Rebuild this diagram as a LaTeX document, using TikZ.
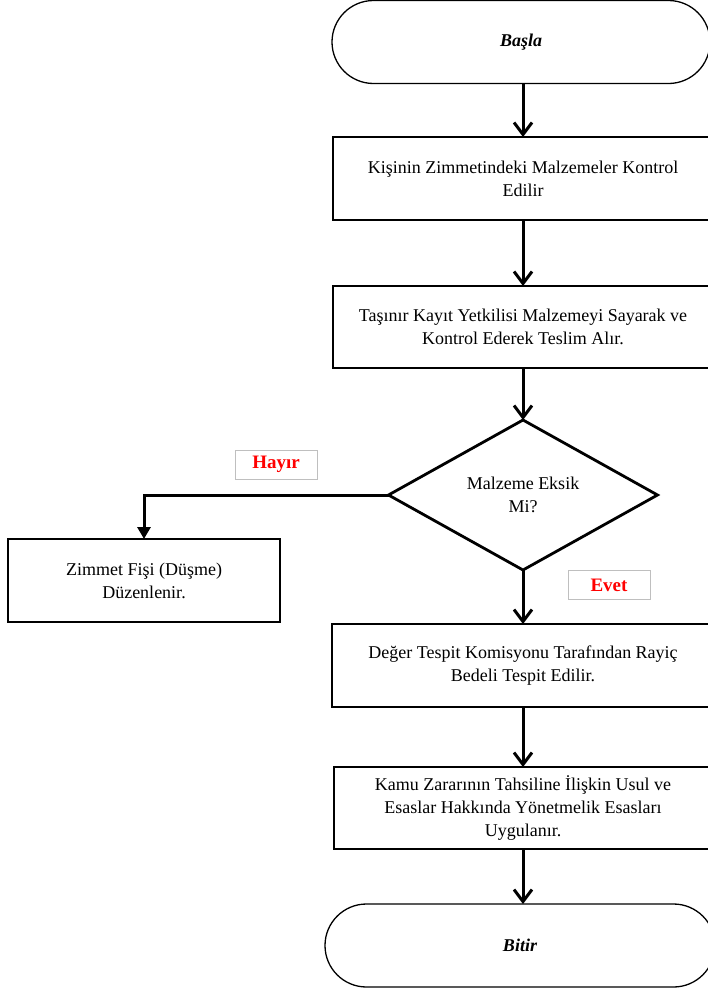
\documentclass[tikz,border=0pt]{standalone}
\usepackage{fontspec}
\setmainfont{Liberation Serif}
\usetikzlibrary{shapes.geometric,shapes.misc,arrows.meta}
\begin{document}
\begin{tikzpicture}[x=1pt,y=-1pt,
  every node/.style={font=\fontsize{18}{23}\selectfont, inner sep=0pt, outer sep=0pt},
  term/.style={draw, line width=1.3pt, rounded rectangle, minimum height=83pt,
    font=\fontsize{18}{23}\selectfont\bfseries\itshape},
  procbox/.style={draw, line width=1.6pt, minimum width=380pt, minimum height=83pt, align=center},
  decision/.style={draw, line width=2.8pt, diamond, minimum width=269pt, minimum height=150pt, align=center},
  lbl/.style={draw=gray!50, line width=1pt, minimum width=82pt, minimum height=29pt, text=red,
    font=\fontsize{19}{23}\selectfont\bfseries},
  flow/.style={line width=3pt, -{Straight Barb[length=12pt,width=18pt]}},
  flowfill/.style={line width=3pt, -{Triangle[length=12pt,width=13pt]}}
]
\path[use as bounding box] (0,0) rectangle (708,988);
\clip (0,0) rectangle (708,988);

\node[term, minimum width=378pt] (start) at (521,42) {Başla};
\node[procbox] (b1) at (523,178.5) {Kişinin Zimmetindeki Malzemeler Kontrol\\Edilir};
\node[procbox, minimum height=82pt] (b2) at (523,327) {Taşınır Kayıt Yetkilisi Malzemeyi Sayarak ve\\Kontrol Ederek Teslim Alır.};
\node[decision] (d) at (523,495) {Malzeme Eksik\\Mi?};
\node[procbox, minimum width=272pt] (left) at (144,580.5) {Zimmet Fişi (Düşme)\\Düzenlenir.};
\node[procbox, minimum width=382pt] (b3) at (523,665.5) {Değer Tespit Komisyonu Tarafından Rayiç\\Bedeli Tespit Edilir.};
\node[procbox, minimum width=378pt, minimum height=82pt] (b4) at (523,808) {Kamu Zararının Tahsiline İlişkin Usul ve\\Esaslar Hakkında Yönetmelik Esasları\\Uygulanır.};
\node[term, minimum width=390pt] (end) at (520,945.5) {Bitir};

\node[lbl] (hayir) at (276,464.5) {Hayır};
\node[lbl] (evet) at (609,585) {Evet};

\draw[flow] (b1.north |- start.south) -- (b1.north);
\draw[flow] (b1.south) -- (b2.north);
\draw[flow] (b2.south) -- (d.north);
\draw[flowfill] (d.west) -| (left.north);
\draw[flow] (d.south) -- (b3.north);
\draw[flow] (b3.south) -- (b4.north);
\draw[flow] (b4.south) -- (b4.south |- end.north);
\end{tikzpicture}
\end{document}
